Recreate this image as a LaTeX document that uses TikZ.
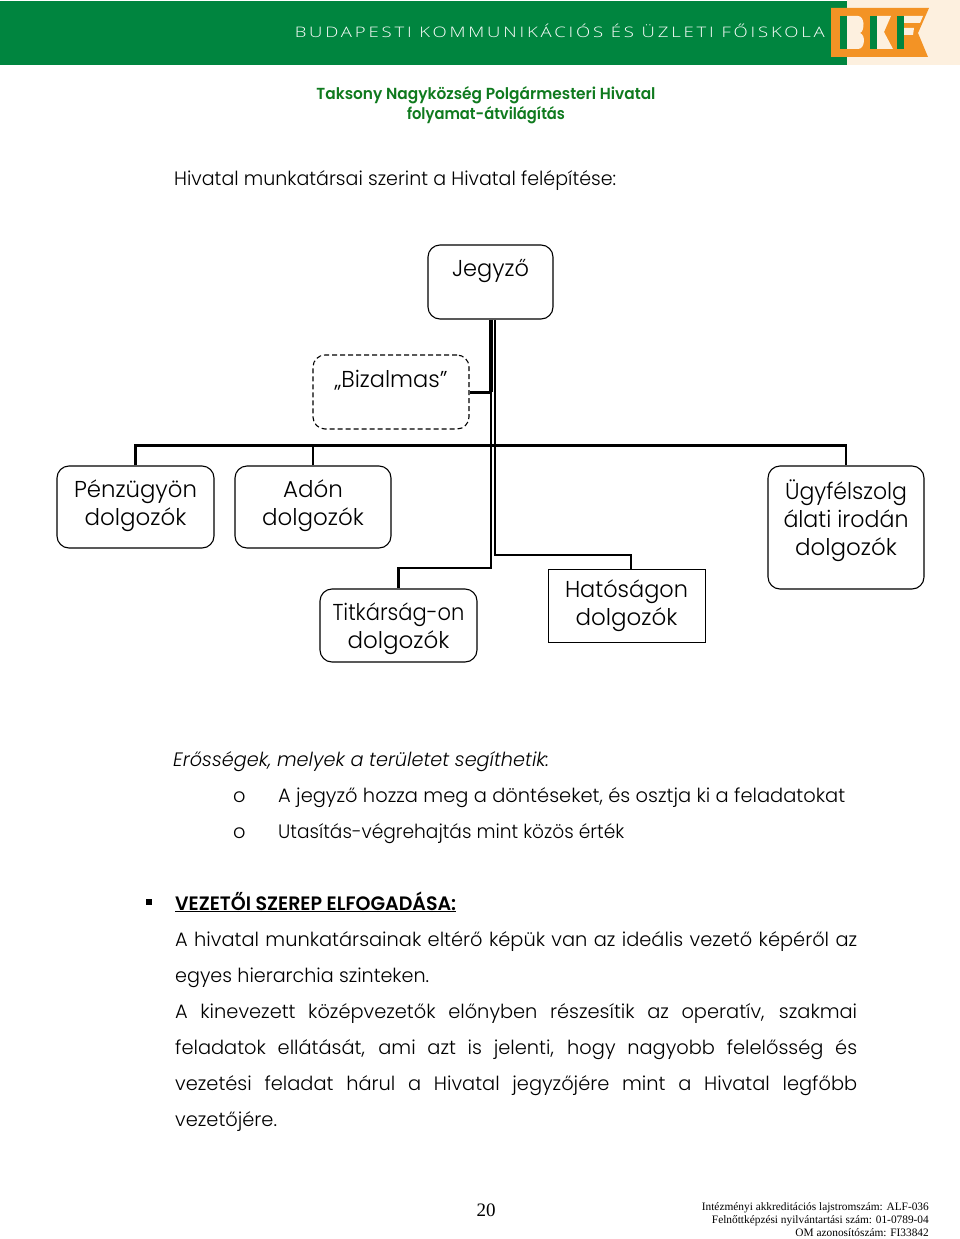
\documentclass[tikz,border=0pt]{standalone}
\usepackage{fontspec}
\setmainfont{Poppins}[UprightFont=* Light,ItalicFont=* Light Italic,BoldFont=* SemiBold]
\newfontfamily\tnr{Liberation Serif}
\newfontfamily\hdr{Open Sans Light}[FakeStretch=1.25]
\usetikzlibrary{calc}
\definecolor{bkfgreen}{HTML}{00853F}
\definecolor{bkforange}{HTML}{F39325}
\definecolor{bkfcream}{HTML}{FDF0DF}
\definecolor{titlegreen}{HTML}{0F7A1E}
\tikzset{
 box/.style={draw=black,line width=1.1pt,rounded corners=12pt,inner sep=0pt},
 boxtext/.style={inner sep=0pt,align=center,font=\fontsize{23}{28}\selectfont,text=black},
 link/.style={draw=black,line width=2.2pt},
 body/.style={anchor=base west,inner sep=0pt,font=\fontsize{19.4}{24}\selectfont,text=black},
 foot/.style={anchor=base east,inner sep=0pt,font=\tnr\fontsize{11.35}{13}\selectfont,text=black}
}
\newcommand{\jl}[1]{\makebox[682pt][s]{#1}}
\newcommand{\fitw}[2]{\resizebox{#1}{\height}{#2}}
\begin{document}
\begin{tikzpicture}[x=1pt,y=-1pt]
\useasboundingbox (0,0) rectangle (960,1239);
\fill[white] (0,0) rectangle (960,1239);
% header
\fill[bkfcream] (847,0) rectangle (960,65);
\fill[bkfgreen] (0,1) rectangle (847,65);
\fill[bkforange] (831,8) -- (929,8) -- (918,33) -- (928,57) -- (831,57) -- cycle;
\fill[bkfgreen] (840,16) rectangle (847,49);
\fill[bkfcream] (847,16) -- (858,16) .. controls (865,16) and (865,31) .. (860,33) .. controls (866,35) and (865,49) .. (858,49) -- (847,49) -- cycle;
\fill[bkfgreen] (870,16) rectangle (877,49);
\fill[bkfcream] (877,16) -- (891,16) -- (884,32) -- (893,49) -- (877,49) -- cycle;
\fill[bkfgreen] (897,16) rectangle (904,49);
\fill[bkfcream] (904,16) -- (923,16) -- (920,23) -- (904,23) -- cycle;
\fill[bkfcream] (904,28) -- (914,28) -- (913,35) -- (904,35) -- cycle;
\node[anchor=base east,inner sep=0pt,text=white,font=\hdr\fontsize{14.5}{16}\selectfont] (hd) at (825,37.6) {\fitw{530pt}{\addfontfeature{LetterSpace=19}BUDAPESTI KOMMUNIKÁCIÓS ÉS ÜZLETI FŐISKOLA}};
\node[anchor=base,inner sep=0pt,text=titlegreen,font=\bfseries\fontsize{16}{20}\selectfont] (t1) at (486,99.6) {\fitw{339pt}{Taksony Nagyközség Polgármesteri Hivatal}};
\node[anchor=base,inner sep=0pt,text=titlegreen,font=\bfseries\fontsize{16}{20}\selectfont] (t2) at (486,119) {\fitw{158pt}{folyamat-átvilágítás}};
\node[body] (intro) at (174,185) {\fitw{442pt}{Hivatal munkatársai szerint a Hivatal felépítése:}};
% org chart
\node[box,minimum width=125pt,minimum height=74pt] (j) at (490.5,282) {};
\node[boxtext,anchor=base] (jt) at (490.5,276) {\fitw{77pt}{Jegyző}};
\node[box,dash pattern=on 5pt off 3pt,minimum width=156pt,minimum height=74pt] (b) at (391,392) {};
\node[boxtext,anchor=base] (bt) at (391,387) {\fitw{113pt}{„Bizalmas”}};
\node[box,minimum width=157pt,minimum height=82pt] (p) at (135.5,507) {};
\node[boxtext,anchor=north] (pt) at (135.5,479.5) {\fitw{123pt}{Pénzügyön}\\dolgozók};
\node[box,minimum width=156pt,minimum height=82pt] (a) at (313,507) {};
\node[boxtext,anchor=north] (at) at (313,479) {Adón\\dolgozók};
\node[box,minimum width=156pt,minimum height=123pt] (u) at (846,527.5) {};
\node[boxtext,anchor=north] (ut) at (846,480) {\fitw{122pt}{Ügyfélszolg}\\\fitw{125pt}{álati irodán}\\dolgozók};
\node[box,minimum width=157pt,minimum height=73pt] (ti) at (398.5,625.5) {};
\node[boxtext,anchor=north] (tit) at (398.5,603) {\fitw{132pt}{Titkárság-on}\\dolgozók};
\node[box,line width=.9pt,rounded corners=0pt,minimum width=157pt,minimum height=73pt] (h) at (626.5,605.5) {};
\node[boxtext,anchor=north] (ht) at (626.5,579) {\fitw{123pt}{Hatóságon}\\dolgozók};
\coordinate (lx) at (491,0);
\coordinate (rx) at (495,0);
\coordinate (hy) at (0,445.5);
\coordinate (ly) at (0,568);
\coordinate (ry) at (0,555);
\coordinate (hx) at (631,0);
\draw[line width=3.4pt] (j.south -| lx) -- (b.east -| lx);
\draw[line width=3pt] (b.east) -- (b.east -| lx);
\draw[link] (b.east -| lx) -- (ly -| lx) -- (ly -| ti.north) -- (ti.north);
\draw[link] (j.south -| rx) -- (ry -| rx) -- (ry -| hx) -- (h.north -| hx);
\draw[link] (p.north) -- (hy -| p.north) -- (hy -| u.north) -- (u.north);
\draw[link] (a.north) -- (hy -| a.north);
% text
\node[body,font=\itshape\fontsize{19.4}{24}\selectfont] (e) at (173,766) {\fitw{376pt}{Erősségek, melyek a területet segíthetik:}};
\node[body] (o1) at (233,802) {o};
\node[body] (l1) at (278,802) {\fitw{567pt}{A jegyző hozza meg a döntéseket, és osztja ki a feladatokat}};
\node[body] (o2) at (233,838) {o};
\node[body] (l2) at (278,838) {\fitw{346pt}{Utasítás-végrehajtás mint közös érték}};
\fill[black] (146,899) rectangle (152,905);
\node[body,font=\bfseries\fontsize{19.4}{24}\selectfont] (v) at (175,910) {\fitw{281pt}{\underline{VEZETŐI SZEREP ELFOGADÁSA:}}};
\node[body] (p1) at (175,946) {\jl{A hivatal munkatársainak eltérő képük van az ideális vezető képéről az}};
\node[body] (p2) at (175,982) {\fitw{254pt}{egyes hierarchia szinteken.}};
\node[body] (p3) at (175,1018) {\jl{A kinevezett középvezetők előnyben részesítik az operatív, szakmai}};
\node[body] (p4) at (175,1054) {\jl{feladatok ellátását, ami azt is jelenti, hogy nagyobb felelősség és}};
\node[body] (p5) at (175,1090) {\jl{vezetési feladat hárul a Hivatal jegyzőjére mint a Hivatal legfőbb}};
\node[body] (p6) at (175,1126) {vezetőjére.};
% footer
\node[anchor=base,inner sep=0pt,font=\tnr\fontsize{19}{22}\selectfont,text=black] (pg) at (486,1216) {20};
\node[foot] (f1) at (929,1210) {Intézményi akkreditációs lajstromszám: ALF-036};
\node[foot] (f2) at (929,1223) {Felnőttképzési nyilvántartási szám: 01-0789-04};
\node[foot] (f3) at (929,1236) {OM azonosítószám: FI33842};
\end{tikzpicture}
\end{document}
